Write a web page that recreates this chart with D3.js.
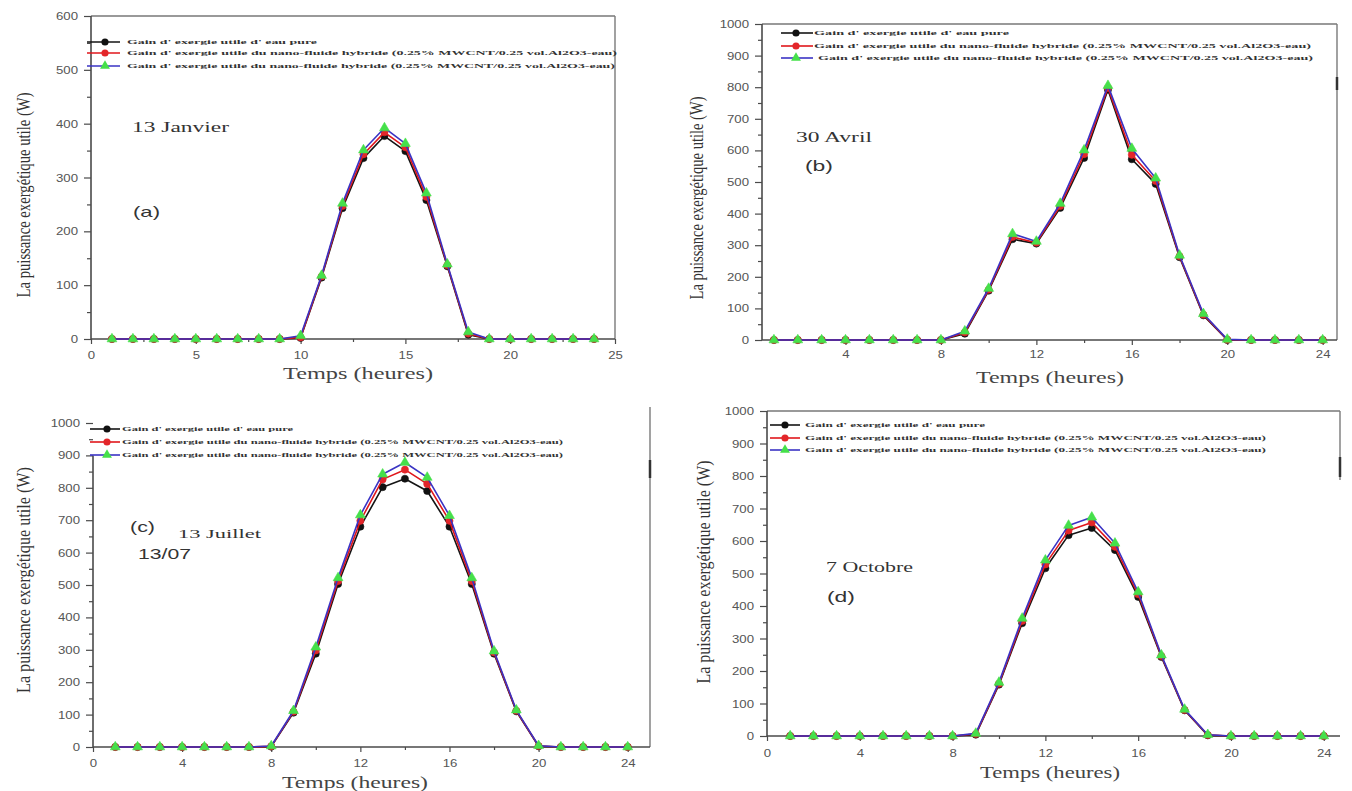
<!DOCTYPE html>
<html>
<head>
<meta charset="utf-8">
<script src="https://cdn.jsdelivr.net/npm/d3@7"></script>
<style>
  body { margin: 0; background: #fff; }
</style>
</head>
<body>
<div id="fig"></div>
<script>
// heures de la journée
const hours = [1, 2, 3, 4, 5, 6, 7, 8, 9, 10, 11, 12, 13, 14, 15, 16, 17, 18, 19, 20, 21, 22, 23, 24]

// (a) 13 Janvier
const janPure  = [0, 0, 0, 0, 0, 0, 0, 0, 0, 2, 114, 243, 336, 377, 349, 258, 135, 8, 0, 0, 0, 0, 0, 0]
const janNano1 = [0, 0, 0, 0, 0, 0, 0, 0, 0, 3, 116, 247, 343, 384, 356, 264, 137, 10, 0, 0, 0, 0, 0, 0]
const janNano2 = [0, 0, 0, 0, 0, 0, 0, 0, 0, 6, 118, 252, 351, 392, 363, 271, 139, 13, 0, 0, 0, 0, 0, 0]

// (b) 30 Avril
const avrPure  = [0, 0, 0, 0, 0, 0, 0, 0, 20, 156, 319, 305, 418, 576, 792, 572, 494, 262, 78, 0, 0, 0, 0, 0]
const avrNano1 = [0, 0, 0, 0, 0, 0, 0, 0, 24, 159, 326, 308, 424, 588, 798, 586, 503, 265, 80, 1, 0, 0, 0, 0]
const avrNano2 = [0, 0, 0, 0, 0, 0, 0, 0, 28, 163, 336, 312, 432, 601, 805, 606, 512, 268, 83, 2, 0, 0, 0, 0]

// (c) 13 Juillet
const julPure  = [0, 0, 0, 0, 0, 0, 0, 1, 106, 288, 503, 680, 802, 828, 790, 680, 503, 288, 110, 2, 0, 0, 0, 0]
const julNano1 = [0, 0, 0, 0, 0, 0, 0, 2, 109, 298, 512, 698, 826, 856, 812, 698, 512, 292, 112, 3, 0, 0, 0, 0]
const julNano2 = [0, 0, 0, 0, 0, 0, 0, 3, 112, 308, 522, 716, 842, 878, 832, 714, 522, 296, 114, 4, 0, 0, 0, 0]

// (d) 7 Octobre
const octPure  = [0, 0, 0, 0, 0, 0, 0, 0, 4, 158, 347, 516, 618, 640, 572, 428, 243, 79, 2, 0, 0, 0, 0, 0]
const octNano1 = [0, 0, 0, 0, 0, 0, 0, 0, 6, 161, 354, 528, 632, 657, 582, 436, 246, 80, 3, 0, 0, 0, 0, 0]
const octNano2 = [0, 0, 0, 0, 0, 0, 0, 0, 8, 165, 362, 541, 648, 673, 593, 443, 249, 82, 4, 0, 0, 0, 0, 0]

// tick labels
const yTicks600  = [0, 100, 200, 300, 400, 500, 600]
const yTicks1000 = [0, 100, 200, 300, 400, 500, 600, 700, 800, 900, 1000]
const xTicks5    = [0, 5, 10, 15, 20, 25]
const xTicks4    = [0, 4, 8, 12, 16, 20, 24]
const xTicks4b   = [4, 8, 12, 16, 20, 24]

const legendLabels = [
  "Gain d' exergie utile d' eau pure",
  "Gain d' exergie utile du nano-fluide hybride (0.25% MWCNT/0.25 vol.Al2O3-eau)",
  "Gain d' exergie utile du nano-fluide hybride (0.25% MWCNT/0.25 vol.Al2O3-eau)"
]

const xTitle = "Temps (heures)"
const yTitle = "La puissance exergétique utile (W)"

const width = 1352
const height = 791
const serif = "'Liberation Serif', 'DejaVu Serif', serif"
const sans = "'Liberation Sans', Arial, sans-serif"
const axisCol = "#4a4a4a"

// line + marker style of each series
const styles = [
  { line: "#151515", fill: "#111", sym: d3.symbolCircle, size: 40 },
  { line: "#e0161b", fill: "#e3262a", sym: d3.symbolCircle, size: 40 },
  { line: "#3a33c4", fill: "#45e04a", sym: d3.symbolTriangle, size: 42 }
]

// layout of the 4 panels
const panels = [
  { left: 91, right: 615, top: 16, bottom: 339, xDomain: [0, 25], xTicks: xTicks5, xMinorStep: 2.5,
    yMax: 600, yTicks: yTicks600, yLineTop: 600, topBorder: true, rightBorder: [16, 339], darkMark: null,
    series: [janPure, janNano1, janNano2], xPad: 7, xTitleX: 358, xTitleY: 379, xTitleLen: 150,
    yTitleX: 23, yTitleY: 195, yTitleLen: 205,
    legend: { rows: [42, 53, 66], l0: 87, l1: 120, m: 105, tx: [127, 127, 127], len: [190, 490, 488] },
    notes: [
      { t: "13 Janvier", x: 132, y: 132, font: serif, size: 15, len: 97 },
      { t: "(a)", x: 133, y: 217, font: sans, size: 15, len: 27 }
    ] },
  { left: 762, right: 1337, top: 24, bottom: 340, xDomain: [0.5, 24.6], xTicks: xTicks4b, xMinorStep: 2,
    yMax: 1000, yTicks: yTicks1000, yLineTop: 1000, topBorder: true, rightBorder: [24, 340], darkMark: [77, 90],
    series: [avrPure, avrNano1, avrNano2], xPad: 5, xTitleX: 1050, xTitleY: 383, xTitleLen: 148,
    yTitleX: 696, yTitleY: 198, yTitleLen: 203,
    legend: { rows: [33, 46, 58], l0: 781, l1: 813, m: 796, tx: [814, 814, 818], len: [195, 497, 495] },
    notes: [
      { t: "30 Avril", x: 796, y: 142, font: serif, size: 15, len: 76 },
      { t: "(b)", x: 805, y: 171, font: sans, size: 15, len: 28 }
    ] },
  { left: 93, right: 650, top: 423, bottom: 747, xDomain: [0, 25], xTicks: xTicks4, xMinorStep: 2,
    yMax: 1000, yTicks: yTicks1000, yLineTop: 900, topBorder: false, rightBorder: [407, 747], darkMark: [460, 478],
    series: [julPure, julNano1, julNano2], xPad: 7, xTitleX: 355, xTitleY: 788, xTitleLen: 146,
    yTitleX: 23, yTitleY: 580, yTitleLen: 226,
    legend: { rows: [429, 442, 455], l0: 90, l1: 120, m: 107, tx: [122, 122, 122], len: [171, 441, 441] },
    notes: [
      { t: "(c)", x: 130, y: 532, font: sans, size: 15, len: 25 },
      { t: "13 Juillet", x: 178, y: 538, font: serif, size: 13, len: 83 },
      { t: "13/07", x: 138, y: 559, font: sans, size: 15, len: 53 }
    ] },
  { left: 767, right: 1340, top: 411, bottom: 736, xDomain: [0, 24.7], xTicks: xTicks4, xMinorStep: 2,
    yMax: 1000, yTicks: yTicks1000, yLineTop: 1000, topBorder: true, rightBorder: [411, 480], darkMark: [457, 477],
    series: [octPure, octNano1, octNano2], xPad: 8, xTitleX: 1050, xTitleY: 778, xTitleLen: 140,
    yTitleX: 703, yTitleY: 572, yTitleLen: 223,
    legend: { rows: [425, 438, 450], l0: 770, l1: 800, m: 785, tx: [805, 805, 805], len: [180, 461, 461] },
    notes: [
      { t: "7 Octobre", x: 826, y: 572, font: serif, size: 14, len: 87 },
      { t: "(d)", x: 827, y: 602, font: sans, size: 15, len: 28 }
    ] }
]

// widen text horizontally around its anchor (the figure is stretched)
function stretch(sel, k) {
  sel.each(function () {
    const t = d3.select(this)
    const x = +t.attr("x") || 0
    t.attr("transform", `translate(${x},0) scale(${k},1) translate(${-x},0)`)
  })
}

const svg = d3.select("#fig")
  .append("svg")
  .attr("width", width)
  .attr("height", height)
  .style("background", "#fff")

panels.forEach(p => {
  const g = svg.append("g")

  const x = d3.scaleLinear().domain(p.xDomain).range([p.left, p.right])
  const y = d3.scaleLinear().domain([0, p.yMax]).range([p.bottom, p.top])

  // frame lines
  if (p.topBorder) {
    g.append("line")
      .attr("x1", p.left).attr("x2", p.right)
      .attr("y1", p.top).attr("y2", p.top)
      .attr("stroke", "#777").attr("stroke-width", 1.4)
  }
  g.append("line")
    .attr("x1", p.right).attr("x2", p.right)
    .attr("y1", p.rightBorder[0]).attr("y2", p.rightBorder[1])
    .attr("stroke", "#7a7a7a").attr("stroke-width", 1.4)
  if (p.darkMark) {
    g.append("line")
      .attr("x1", p.right).attr("x2", p.right)
      .attr("y1", p.darkMark[0]).attr("y2", p.darkMark[1])
      .attr("stroke", "#333").attr("stroke-width", 2.5)
  }

  // y axis
  const yMinor = d3.range(50, p.yMax, 100)
  const yMinorAxis = g.append("g")
    .attr("transform", `translate(${p.left},0)`)
    .call(d3.axisLeft(y).tickValues(yMinor).tickSize(4).tickFormat(""))
  yMinorAxis.select(".domain").remove()
  yMinorAxis.selectAll("line").attr("stroke", axisCol).attr("stroke-width", 1.2)

  const yAxis = g.append("g")
    .attr("transform", `translate(${p.left},0)`)
    .call(d3.axisLeft(y).tickValues(p.yTicks).tickFormat(d3.format("d")).tickSize(7).tickPadding(6))
  yAxis.select(".domain").remove()
  yAxis.selectAll("line").attr("stroke", axisCol).attr("stroke-width", 1.2)
  yAxis.selectAll("text")
    .attr("fill", "#555")
    .style("font-family", sans)
    .style("font-size", "11px")
  stretch(yAxis.selectAll("text"), 1.2)

  g.append("line")
    .attr("x1", p.left).attr("x2", p.left)
    .attr("y1", y(p.yLineTop)).attr("y2", p.bottom)
    .attr("stroke", axisCol).attr("stroke-width", 1.6)

  // x axis
  const xMinor = d3.range(p.xTicks[0] + p.xMinorStep, p.xDomain[1], p.xMinorStep * 2)
  const xMinorAxis = g.append("g")
    .attr("transform", `translate(0,${p.bottom})`)
    .call(d3.axisBottom(x).tickValues(xMinor).tickSize(3).tickFormat(""))
  xMinorAxis.select(".domain").remove()
  xMinorAxis.selectAll("line").attr("stroke", axisCol).attr("stroke-width", 1.2)

  const xAxis = g.append("g")
    .attr("transform", `translate(0,${p.bottom})`)
    .call(d3.axisBottom(x).tickValues(p.xTicks).tickSize(5).tickPadding(p.xPad))
  xAxis.select(".domain").remove()
  xAxis.selectAll("line").attr("stroke", axisCol).attr("stroke-width", 1.2)
  xAxis.selectAll("text")
    .attr("fill", "#555")
    .style("font-family", sans)
    .style("font-size", "11px")
  stretch(xAxis.selectAll("text"), 1.2)

  g.append("line")
    .attr("x1", p.left).attr("x2", p.right)
    .attr("y1", p.bottom).attr("y2", p.bottom)
    .attr("stroke", axisCol).attr("stroke-width", 1.6)

  // axis titles
  g.append("text")
    .attr("x", p.xTitleX)
    .attr("y", p.xTitleY)
    .attr("text-anchor", "middle")
    .attr("textLength", p.xTitleLen)
    .attr("lengthAdjust", "spacingAndGlyphs")
    .attr("fill", "#444")
    .style("font-family", serif)
    .style("font-size", "17px")
    .text(xTitle)

  g.append("text")
    .attr("transform", `translate(${p.yTitleX},${p.yTitleY}) rotate(-90) scale(1,1.3)`)
    .attr("text-anchor", "middle")
    .attr("dy", "0.35em")
    .attr("textLength", p.yTitleLen)
    .attr("lengthAdjust", "spacingAndGlyphs")
    .attr("fill", "#333")
    .style("font-family", serif)
    .style("font-size", "15px")
    .text(yTitle)

  // series: line then markers, one series after the other
  p.series.forEach((vals, i) => {
    const st = styles[i]
    const pts = hours.map((h, j) => [h, vals[j]])
    g.append("path")
      .datum(pts)
      .attr("fill", "none")
      .attr("stroke", st.line)
      .attr("stroke-width", 1.6)
      .attr("stroke-linejoin", "round")
      .attr("d", d3.line().x(d => x(d[0])).y(d => y(d[1])))
    g.selectAll(null)
      .data(pts)
      .enter()
      .append("path")
      .attr("transform", d => `translate(${x(d[0])},${y(d[1])})`)
      .attr("d", d3.symbol().type(st.sym).size(st.size))
      .attr("fill", st.fill)
      .attr("stroke", st.fill)
      .attr("stroke-width", 0.6)
  })

  // legend
  const lg = p.legend
  lg.rows.forEach((ry, i) => {
    const st = styles[i]
    g.append("line")
      .attr("x1", lg.l0).attr("x2", lg.l1)
      .attr("y1", ry).attr("y2", ry)
      .attr("stroke", st.line).attr("stroke-width", 1.6)
    g.append("path")
      .attr("transform", `translate(${lg.m},${ry})`)
      .attr("d", d3.symbol().type(st.sym).size(st.size))
      .attr("fill", st.fill)
    g.append("text")
      .attr("x", lg.tx[i])
      .attr("y", ry + 2.3)
      .attr("textLength", lg.len[i])
      .attr("lengthAdjust", "spacingAndGlyphs")
      .attr("fill", "#333")
      .style("font-family", serif)
      .style("font-weight", "bold")
      .style("font-size", "7px")
      .text(legendLabels[i])
  })

  // annotations
  p.notes.forEach(n => {
    g.append("text")
      .attr("x", n.x)
      .attr("y", n.y)
      .attr("textLength", n.len)
      .attr("lengthAdjust", "spacingAndGlyphs")
      .attr("fill", "#333")
      .style("font-family", n.font)
      .style("font-size", n.size + "px")
      .text(n.t)
  })
})
</script>
</body>
</html>
